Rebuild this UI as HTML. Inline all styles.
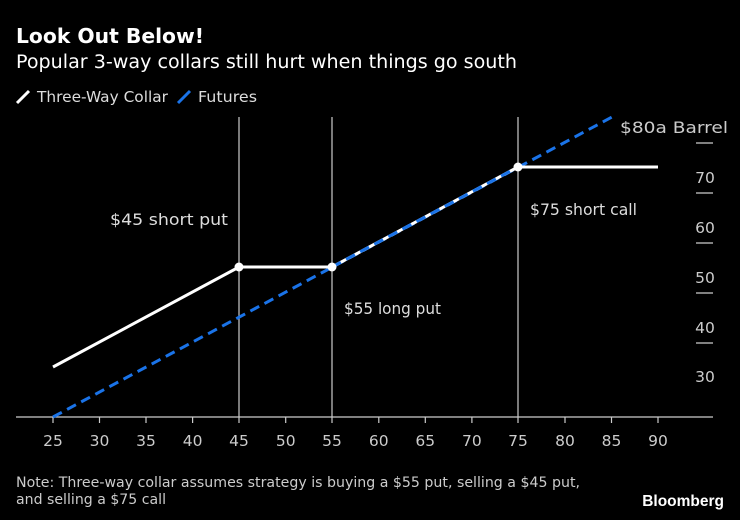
<!DOCTYPE html>
<html><head><style>
body{margin:0;background:#000;width:740px;height:520px;overflow:hidden;font-family:"DejaVu Sans","Liberation Sans",sans-serif;color:#fff}
</style></head><body>
<svg width="740" height="520" xmlns="http://www.w3.org/2000/svg" style="position:absolute;left:0;top:0">
<rect width="740" height="520" fill="#000"/>
<text x="16" y="43" font-size="20" font-weight="bold" fill="#fff" font-family="DejaVu Sans, sans-serif" textLength="188" lengthAdjust="spacingAndGlyphs">Look Out Below!</text>
<text x="16" y="68" font-size="18.5" fill="#fff" font-family="DejaVu Sans, sans-serif" textLength="501" lengthAdjust="spacingAndGlyphs">Popular 3-way collars still hurt when things go south</text>
<line x1="17" y1="103" x2="29" y2="91" stroke="#fff" stroke-width="3"/>
<text x="37" y="102" font-size="15" fill="#ddd" font-family="DejaVu Sans, sans-serif" textLength="131" lengthAdjust="spacingAndGlyphs">Three-Way Collar</text>
<line x1="178" y1="103" x2="190" y2="91" stroke="#1a73e8" stroke-width="3"/>
<text x="198" y="102" font-size="15" fill="#ddd" font-family="DejaVu Sans, sans-serif" textLength="59" lengthAdjust="spacingAndGlyphs">Futures</text>
<g stroke="#ccc" stroke-width="1.2">
<line x1="239" y1="117" x2="239" y2="417"/>
<line x1="332" y1="117" x2="332" y2="417"/>
<line x1="518" y1="117" x2="518" y2="417"/>
<line x1="16" y1="417" x2="713" y2="417"/>
<line x1="696" y1="143" x2="713" y2="143"/>
<line x1="696" y1="193" x2="713" y2="193"/>
<line x1="696" y1="243" x2="713" y2="243"/>
<line x1="696" y1="293" x2="713" y2="293"/>
<line x1="696" y1="343" x2="713" y2="343"/>
</g>
<g stroke="#ccc" stroke-width="1.2">
<line x1="53" y1="417" x2="53" y2="423"/><line x1="99.5" y1="417" x2="99.5" y2="423"/><line x1="146" y1="417" x2="146" y2="423"/><line x1="192.6" y1="417" x2="192.6" y2="423"/><line x1="239" y1="417" x2="239" y2="423"/><line x1="285.7" y1="417" x2="285.7" y2="423"/><line x1="332" y1="417" x2="332" y2="423"/><line x1="378.8" y1="417" x2="378.8" y2="423"/><line x1="425.3" y1="417" x2="425.3" y2="423"/><line x1="471.9" y1="417" x2="471.9" y2="423"/><line x1="518" y1="417" x2="518" y2="423"/><line x1="565" y1="417" x2="565" y2="423"/><line x1="611.5" y1="417" x2="611.5" y2="423"/><line x1="658" y1="417" x2="658" y2="423"/>
</g>
<g font-size="15.5" fill="#ccc" text-anchor="middle" font-family="DejaVu Sans, sans-serif">
<text x="53" y="446">25</text><text x="99.5" y="446">30</text><text x="146" y="446">35</text><text x="192.6" y="446">40</text><text x="239" y="446">45</text><text x="285.7" y="446">50</text><text x="332" y="446">55</text><text x="378.8" y="446">60</text><text x="425.3" y="446">65</text><text x="471.9" y="446">70</text><text x="518" y="446">75</text><text x="565" y="446">80</text><text x="611.5" y="446">85</text><text x="658" y="446">90</text>
</g>
<g font-size="15.5" fill="#ccc" text-anchor="middle" font-family="DejaVu Sans, sans-serif">
<text x="705" y="183">70</text><text x="705" y="233">60</text><text x="705" y="283">50</text><text x="705" y="333">40</text><text x="705" y="382">30</text>
</g>
<text x="620" y="133" font-size="16" fill="#ccc" font-family="DejaVu Sans, sans-serif" textLength="108" lengthAdjust="spacingAndGlyphs">$80a Barrel</text>
<line x1="53" y1="417" x2="612" y2="117" stroke="#1a73e8" stroke-width="3" stroke-dasharray="10,6"/>
<polyline points="53,367 239,267 332,267 518,167 658,167" fill="none" stroke="#fff" stroke-width="3"/>
<line x1="332" y1="267" x2="518" y2="167" stroke="#1a73e8" stroke-width="3" stroke-dasharray="10,6"/>
<circle cx="239" cy="267" r="4.5" fill="#fff"/><circle cx="332" cy="267" r="4.5" fill="#fff"/><circle cx="518" cy="167" r="4.5" fill="#fff"/>
<g font-size="16" fill="#ddd" font-family="DejaVu Sans, sans-serif">
<text x="110" y="225" textLength="118" lengthAdjust="spacingAndGlyphs">$45 short put</text>
<text x="344" y="314" textLength="97" lengthAdjust="spacingAndGlyphs">$55 long put</text>
<text x="530" y="215" textLength="107" lengthAdjust="spacingAndGlyphs">$75 short call</text>
</g>
<text x="16" y="487" font-size="14" fill="#ccc" font-family="DejaVu Sans, sans-serif" textLength="564" lengthAdjust="spacingAndGlyphs">Note: Three-way collar assumes strategy is buying a $55 put, selling a $45 put,</text>
<text x="16" y="504" font-size="14" fill="#ccc" font-family="DejaVu Sans, sans-serif" textLength="150" lengthAdjust="spacingAndGlyphs">and selling a $75 call</text>
<text x="724" y="506" font-size="15.5" font-weight="bold" fill="#fff" text-anchor="end" font-family="Liberation Sans, sans-serif">Bloomberg</text>
</svg>
</body></html>
